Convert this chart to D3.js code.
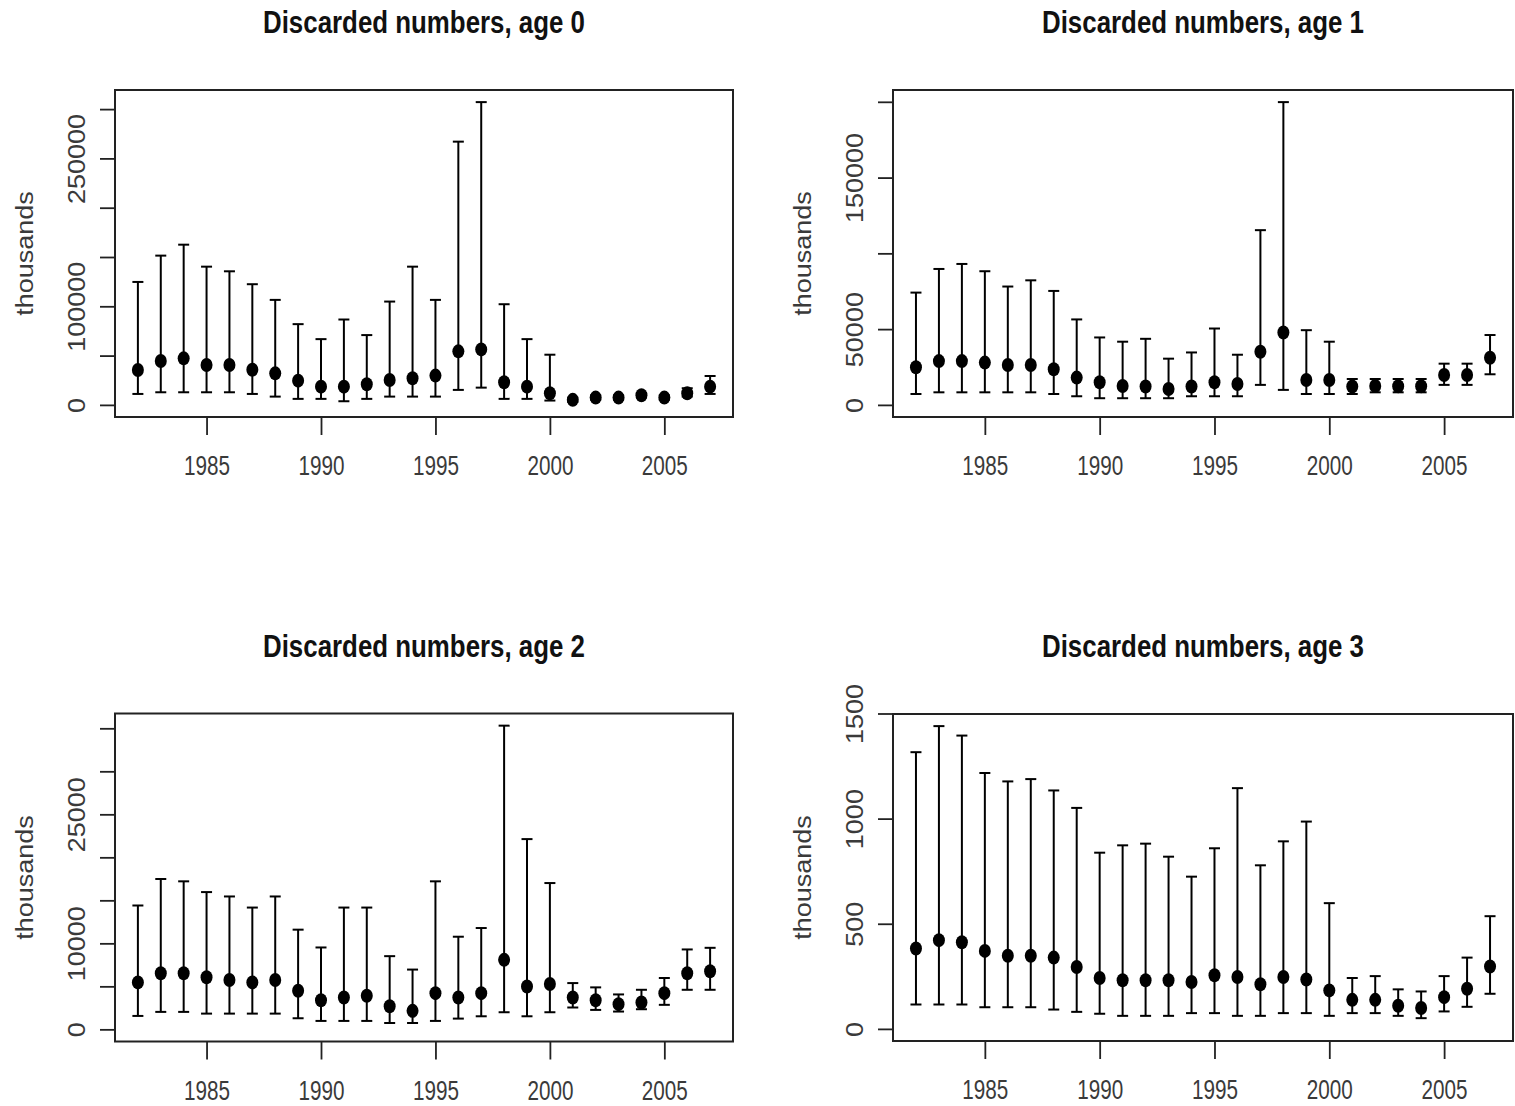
<!DOCTYPE html>
<html><head><meta charset="utf-8">
<script src="https://cdn.jsdelivr.net/npm/d3@7"></script>
<style>body{margin:0;background:#fff}</style>
</head><body><svg id="chart" width="1515" height="1106"></svg>
<script>
const years = [1982,1983,1984,1985,1986,1987,1988,1989,1990,1991,1992,1993,1994,1995,1996,1997,1998,1999,2000,2001,2002,2003,2004,2005,2006,2007];

const age0Est = [35400,44500,47200,40500,40500,35700,32000,24600,18500,18500,20900,25300,27000,29700,54300,56300,22900,18500,11800,5100,7400,7400,9800,7400,11800,18500];
const age0Lo  = [11100,12800,12800,12800,12800,11100,8400,6100,6100,3700,6100,8400,8400,8400,15200,17500,6100,6100,4400,3000,5200,5200,7500,5200,8400,11100];
const age0Hi  = [124700,151400,162500,140200,135500,122400,106500,81900,66700,86600,70800,104800,140200,106500,267000,307100,102100,66700,50900,7300,9700,9700,12100,9700,16900,29300];

const age1Est = [24800,28900,28900,27900,26300,26300,23500,18000,14900,12500,12100,10500,12100,14900,13800,35100,47800,16400,16400,12100,12500,12300,12300,19700,19700,31100];
const age1Lo  = [7200,8300,8300,8300,8300,8300,7200,5700,4400,4400,4400,4400,5700,5700,5700,13200,9900,7200,7200,7200,8300,8300,8300,13200,13200,20200];
const age1Hi  = [74100,89700,93000,88200,78100,82200,75200,56400,44500,41700,43600,30500,34600,50400,33100,115300,199800,49300,41700,17100,17100,17100,17100,27200,27200,46100];

const age2Est = [5460,6520,6520,6050,5740,5460,5740,4490,3390,3710,3900,2690,2150,4210,3710,4210,8080,4990,5270,3710,3390,2930,3120,4210,6520,6750];
const age2Lo  = [1560,2030,2030,1830,1830,1830,1830,1290,980,980,980,740,740,980,1250,1520,1990,1520,1990,2540,2260,2070,2340,2850,4600,4600];
const age2Hi  = [14400,17480,17210,15960,15450,14160,15450,11590,9520,14160,14160,8510,6950,17210,10770,11780,35310,22120,17010,5380,4880,4060,4600,5970,9290,9480];

const age3Est = [382,422,412,371,348,348,339,294,242,231,231,231,223,255,247,212,247,235,183,138,138,110,99,151,191,297];
const age3Lo  = [116,116,116,103,103,103,92,81,72,62,62,62,75,75,62,62,75,75,62,75,75,62,51,83,105,167];
const age3Hi  = [1316,1440,1395,1217,1177,1188,1134,1051,838,873,881,819,724,859,1145,778,892,986,598,242,251,188,178,251,339,536];

const titles = ["Discarded numbers, age 0","Discarded numbers, age 1","Discarded numbers, age 2","Discarded numbers, age 3"];
const yAxisTitle = "thousands";
const xTicks = [1985,1990,1995,2000,2005];
const yTicks0 = [0,50000,100000,150000,200000,250000,300000];
const yLabels0 = [0,100000,250000];
const yTicks1 = [0,50000,100000,150000,200000];
const yLabels1 = [0,50000,150000];
const yTicks2 = [0,5000,10000,15000,20000,25000,30000,35000];
const yLabels2 = [0,10000,25000];
const yTicks3 = [0,500,1000,1500];
const yLabels3 = [0,500,1000,1500];

const panels = [
  {title: titles[0], est: age0Est, lo: age0Lo, hi: age0Hi, ticks: yTicks0, labels: yLabels0, box: {l:115, r:733, t:90, b:417}},
  {title: titles[1], est: age1Est, lo: age1Lo, hi: age1Hi, ticks: yTicks1, labels: yLabels1, box: {l:893, r:1513, t:90, b:417}},
  {title: titles[2], est: age2Est, lo: age2Lo, hi: age2Hi, ticks: yTicks2, labels: yLabels2, box: {l:115, r:733, t:713.5, b:1041.5}},
  {title: titles[3], est: age3Est, lo: age3Lo, hi: age3Hi, ticks: yTicks3, labels: yLabels3, box: {l:893, r:1513, t:714, b:1041}}
];

const svg = d3.select("#chart");
const FONT = "'Liberation Sans', Arial, sans-serif";
const INK = "#222";

panels.forEach(p => {
  const b = p.box;
  const M = d3.max(p.hi);
  const x = d3.scaleLinear().domain([1981, 2008]).range([b.l, b.r]);
  const y = d3.scaleLinear().domain([-0.04 * M, 1.04 * M]).range([b.b, b.t]);
  const g = svg.append("g");

  // y axis
  const ya = g.append("g").attr("transform", `translate(${b.l},0)`)
    .call(d3.axisLeft(y).tickValues(p.ticks).tickSize(15)
      .tickFormat(d => p.labels.includes(d) ? String(d) : ""));
  ya.select(".domain").remove();
  ya.selectAll(".tick line").attr("stroke", INK).attr("stroke-width", 1.8);
  ya.selectAll(".tick text")
    .attr("x", null).attr("dy", null)
    .attr("transform", "translate(-30,0) rotate(-90) scale(1,0.86)")
    .attr("text-anchor", "middle")
    .attr("fill", "#3a3a3a")
    .style("font-family", FONT).style("font-size", "27px");

  // x axis
  const xa = g.append("g").attr("transform", `translate(0,${b.b})`)
    .call(d3.axisBottom(x).tickValues(xTicks).tickSize(18).tickFormat(d3.format("d")));
  xa.select(".domain").remove();
  xa.selectAll(".tick line").attr("stroke", INK).attr("stroke-width", 1.8);
  xa.selectAll(".tick text")
    .attr("y", 58).attr("dy", null)
    .attr("textLength", 46).attr("lengthAdjust", "spacingAndGlyphs")
    .attr("fill", "#3a3a3a")
    .style("font-family", FONT).style("font-size", "28px");

  // box
  g.append("rect").attr("x", b.l).attr("y", b.t)
    .attr("width", b.r - b.l).attr("height", b.b - b.t)
    .attr("fill", "none").attr("stroke", INK).attr("stroke-width", 2);

  // title
  g.append("text").attr("x", (b.l + b.r) / 2).attr("y", b.t - 57)
    .attr("text-anchor", "middle")
    .attr("textLength", 322).attr("lengthAdjust", "spacingAndGlyphs")
    .style("font-family", FONT).style("font-size", "31px").style("font-weight", "bold")
    .attr("fill", "#111")
    .text(p.title);

  // y axis title
  g.append("text")
    .attr("transform", `translate(${b.l - 82},${(b.t + b.b) / 2}) rotate(-90) scale(1,0.86)`)
    .attr("text-anchor", "middle")
    .attr("fill", "#3a3a3a")
    .style("font-family", FONT).style("font-size", "27px")
    .text(yAxisTitle);

  const data = years.map((yr, i) => ({yr, est: p.est[i], lo: p.lo[i], hi: p.hi[i]}));
  const bars = g.append("g").attr("stroke", "#000").attr("stroke-width", 2);
  bars.selectAll("line.v").data(data).join("line").attr("class", "v")
    .attr("x1", d => x(d.yr)).attr("x2", d => x(d.yr))
    .attr("y1", d => y(d.lo)).attr("y2", d => y(d.hi));
  bars.selectAll("line.ct").data(data).join("line").attr("class", "ct")
    .attr("x1", d => x(d.yr) - 5.5).attr("x2", d => x(d.yr) + 5.5)
    .attr("y1", d => y(d.hi)).attr("y2", d => y(d.hi));
  bars.selectAll("line.cb").data(data).join("line").attr("class", "cb")
    .attr("x1", d => x(d.yr) - 5.5).attr("x2", d => x(d.yr) + 5.5)
    .attr("y1", d => y(d.lo)).attr("y2", d => y(d.lo));
  g.append("g").selectAll("ellipse").data(data).join("ellipse")
    .attr("cx", d => x(d.yr)).attr("cy", d => y(d.est)).attr("rx", 6).attr("ry", 7).attr("fill", "#000");
});
</script>
</body></html>
